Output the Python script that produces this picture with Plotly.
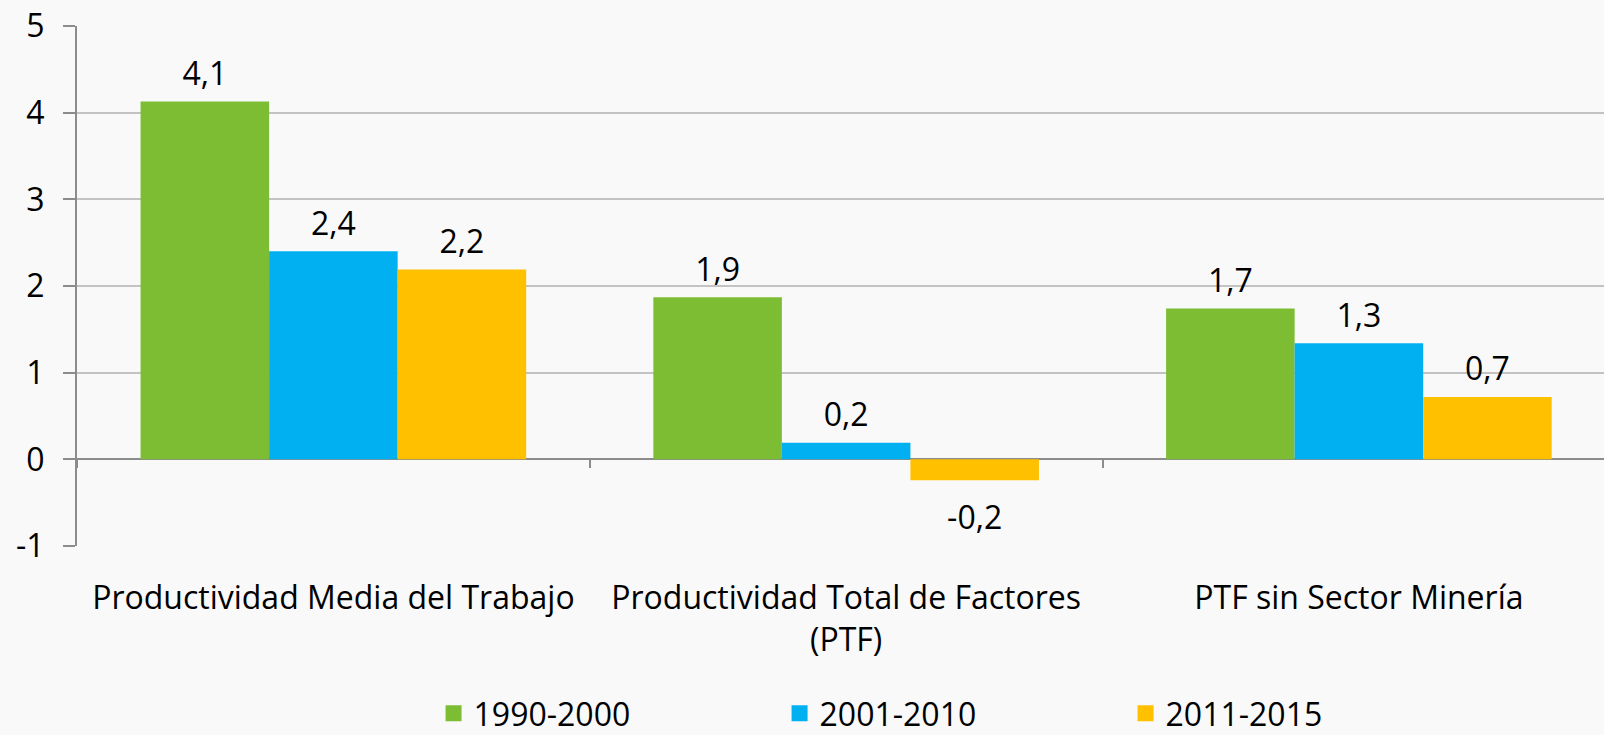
import plotly.graph_objects as go

categories = ["Productividad Media del Trabajo", "Productividad Total de Factores<br>(PTF)", "PTF sin Sector Minería"]
series_names = ["1990-2000", "2001-2010", "2011-2015"]
values_1990_2000 = [4.13, 1.87, 1.74]
values_2001_2010 = [2.40, 0.19, 1.34]
values_2011_2015 = [2.19, -0.24, 0.72]
labels_1990_2000 = ["4,1", "1,9", "1,7"]
labels_2001_2010 = ["2,4", "0,2", "1,3"]
labels_2011_2015 = ["2,2", "-0,2", "0,7"]
series_values = [values_1990_2000, values_2001_2010, values_2011_2015]
series_labels = [labels_1990_2000, labels_2001_2010, labels_2011_2015]
colors = ["#7CBD33", "#00B0F0", "#FFC000"]
y_ticks = [-1, 0, 1, 2, 3, 4, 5]
y_tick_text = ["-1", "0", "1", "2", "3", "4", "5"]

FONT = "Open Sans"
fs = 32

fig = go.Figure()
for name, vals, col in zip(series_names, series_values, colors):
    fig.add_trace(go.Bar(x=categories, y=vals, name=name, marker=dict(color=col, line=dict(width=0)),
                         offsetgroup=name, hoverinfo="skip", showlegend=False))
for name, vals, labs, col in zip(series_names, series_values, series_labels, colors):
    fig.add_trace(go.Scatter(x=categories, y=vals, mode="markers+text", offsetgroup=name,
                             text=labs,
                             textposition=["top center" if v >= 0 else "bottom center" for v in vals],
                             marker=dict(size=[12 if v >= 0 else 38 for v in vals], opacity=0),
                             showlegend=False, hoverinfo="skip",
                             textfont=dict(family=FONT, size=fs, color="#000000")))
    # legend entry (square swatch)
    fig.add_trace(go.Scatter(x=[None], y=[None], mode="markers", name=name, offsetgroup=name,
                             marker=dict(symbol="square", size=19, color=col), hoverinfo="skip"))
# boundary ticks on the zero line
fig.add_trace(go.Scatter(x=categories, y=[None] * 3, xaxis="x2", mode="lines", showlegend=False, hoverinfo="skip"))

fig.update_layout(
    width=1604, height=735,
    paper_bgcolor="#F9F9F9", plot_bgcolor="#F9F9F9",
    margin=dict(l=77, r=0, t=26, b=189, autoexpand=False),
    barmode="group", bargap=0.248, bargroupgap=0,
    scattermode="group", scattergap=0.248,
    font=dict(family=FONT, size=fs, color="#000000"),
    xaxis=dict(range=[-0.5, 2.478], showgrid=False, showline=False, ticks="", zeroline=False,
               tickfont=dict(size=fs), ticklabelstandoff=30, automargin=False),
    xaxis2=dict(overlaying="x", matches="x", anchor="free", position=1 / 6, showgrid=False, showline=False,
                ticks="outside", tickson="boundaries", ticklen=8, tickcolor="#8C8C8C", tickwidth=2,
                showticklabels=False, zeroline=False),
    yaxis=dict(range=[-1, 5], tickvals=y_ticks, ticktext=y_tick_text, showgrid=True, gridcolor="#C3C3C3",
               gridwidth=1.5, zeroline=True, zerolinecolor="#8C8C8C", zerolinewidth=2,
               showline=True, linecolor="#8C8C8C", linewidth=2, ticks="outside", ticklen=12,
               tickcolor="#8C8C8C", tickwidth=2, tickfont=dict(size=fs), ticklabelstandoff=12,
               automargin=False),
    legend=dict(orientation="h", x=0.2335, xanchor="left", y=-0.322, yanchor="middle",
                entrywidth=301, font=dict(size=fs), bgcolor="rgba(0,0,0,0)"),
)
fig.write_html("out.html", config={"displayModeBar": False},
               post_script="document.body.style.margin='0';document.body.style.overflow='hidden';")
